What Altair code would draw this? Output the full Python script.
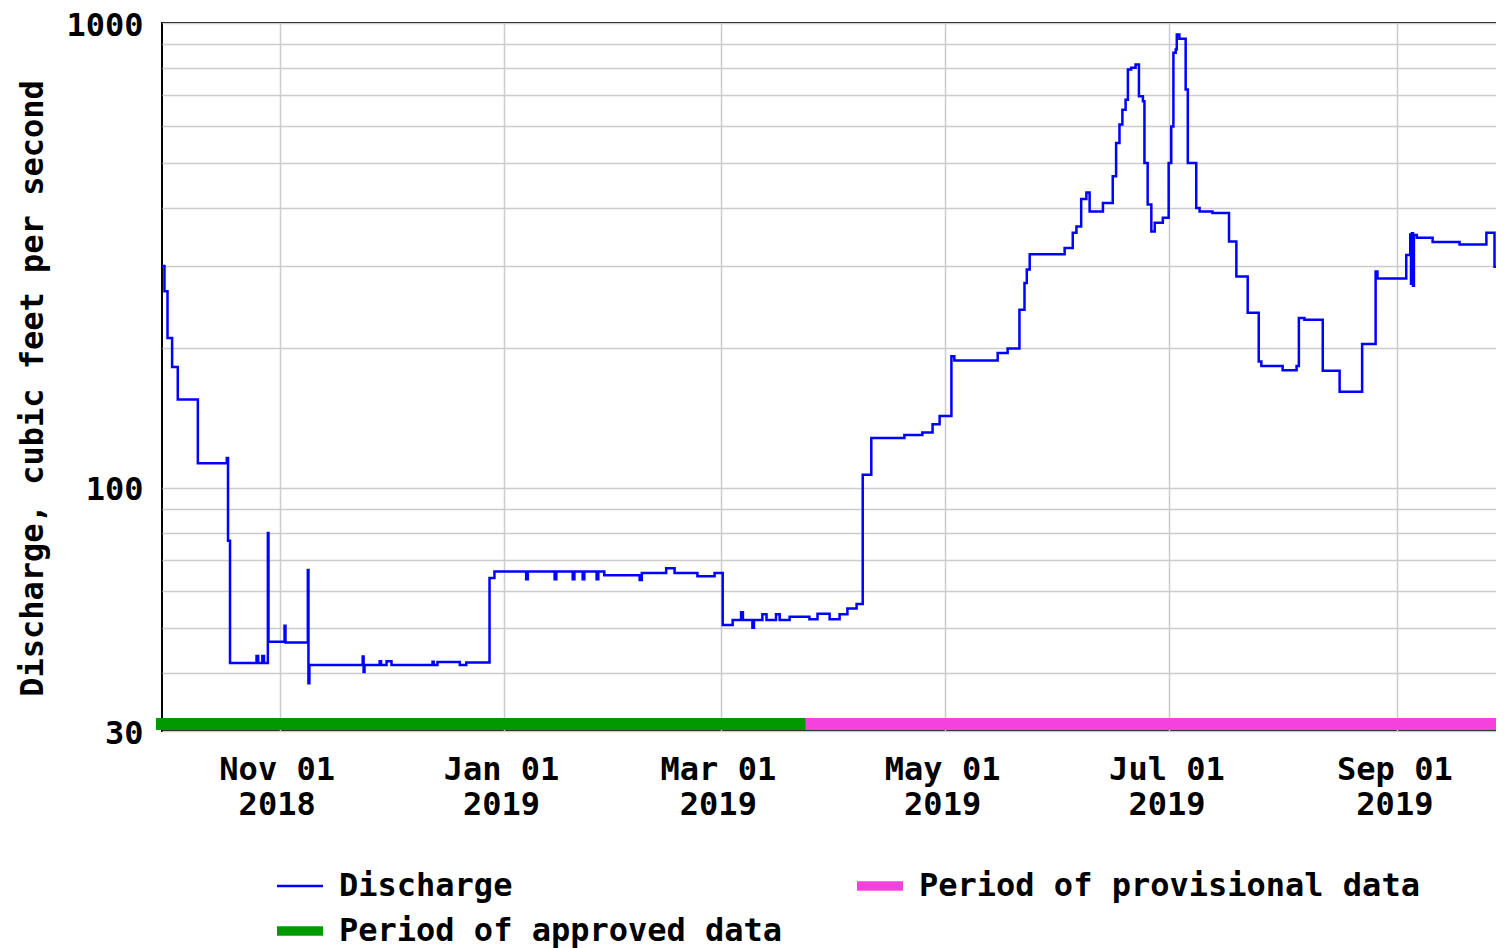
import altair as alt
import pandas as pd

# ---------------- data ----------------
discharge_time = [
    "2018-09-30T00:00", "2018-09-30T16:00", "2018-10-01T12:00", "2018-10-02T18:00",
    "2018-10-04T07:00", "2018-10-09T18:00", "2018-10-17T15:00", "2018-10-17T23:00",
    "2018-10-18T12:00", "2018-10-25T17:00", "2018-10-26T04:00", "2018-10-27T07:00",
    "2018-10-27T18:00", "2018-10-28T19:00", "2018-10-28T23:00", "2018-11-02T08:00",
    "2018-11-02T14:00", "2018-11-08T16:00", "2018-11-08T20:00", "2018-11-09T02:00",
    "2018-11-23T14:00", "2018-11-23T20:00", "2018-11-24T02:00", "2018-11-28T05:00",
    "2018-11-28T14:00", "2018-11-30T02:00", "2018-12-01T10:00", "2018-12-12T14:00",
    "2018-12-12T22:00", "2018-12-13T22:00", "2018-12-20T00:00", "2018-12-21T18:00",
    "2018-12-28T02:00", "2018-12-29T10:00",
    "2019-01-07T01:00", "2019-01-07T12:00", "2019-01-14T19:00", "2019-01-15T06:00",
    "2019-01-19T17:00", "2019-01-20T04:00", "2019-01-22T10:00", "2019-01-22T21:00",
    "2019-01-26T05:00", "2019-01-26T16:00", "2019-01-28T07:00", "2019-02-06T22:00",
    "2019-02-07T12:00", "2019-02-14T03:00", "2019-02-16T10:00", "2019-02-22T15:00",
    "2019-02-27T07:00", "2019-03-01T12:00", "2019-03-04T05:00", "2019-03-06T12:00",
    "2019-03-07T00:00", "2019-03-09T14:00", "2019-03-10T00:00", "2019-03-12T07:00",
    "2019-03-13T10:00", "2019-03-16T00:00", "2019-03-17T00:00", "2019-03-19T17:00",
    "2019-03-25T02:00", "2019-03-27T07:00", "2019-03-30T14:00", "2019-04-02T07:00",
    "2019-04-04T10:00", "2019-04-06T22:00", "2019-04-08T14:00", "2019-04-10T22:00",
    "2019-04-19T22:00", "2019-04-24T19:00", "2019-04-27T14:00", "2019-04-29T12:00",
    "2019-05-02T17:00", "2019-05-03T12:00", "2019-05-15T07:00", "2019-05-18T00:00",
    "2019-05-21T05:00", "2019-05-22T14:00", "2019-05-23T05:00", "2019-05-24T00:00",
    "2019-06-02T12:00", "2019-06-04T17:00", "2019-06-05T17:00", "2019-06-07T00:00",
    "2019-06-08T10:00", "2019-06-09T07:00", "2019-06-12T22:00", "2019-06-15T14:00",
    "2019-06-16T12:00", "2019-06-17T10:00", "2019-06-18T05:00", "2019-06-19T02:00",
    "2019-06-19T17:00", "2019-06-20T14:00", "2019-06-21T19:00", "2019-06-22T17:00",
    "2019-06-23T19:00", "2019-06-24T05:00", "2019-06-25T02:00", "2019-06-26T02:00",
    "2019-06-27T00:00", "2019-06-29T05:00", "2019-06-30T19:00", "2019-07-01T12:00",
    "2019-07-02T02:00", "2019-07-02T17:00", "2019-07-03T00:00", "2019-07-03T17:00",
    "2019-07-05T10:00", "2019-07-06T00:00", "2019-07-08T07:00", "2019-07-09T05:00",
    "2019-07-12T17:00", "2019-07-17T05:00", "2019-07-19T05:00", "2019-07-22T07:00",
    "2019-07-25T07:00", "2019-07-26T00:00", "2019-07-31T19:00", "2019-08-04T14:00",
    "2019-08-05T05:00", "2019-08-06T17:00", "2019-08-11T17:00", "2019-08-16T07:00",
    "2019-08-22T10:00", "2019-08-26T02:00", "2019-08-26T14:00", "2019-09-03T10:00",
    "2019-09-04T12:00", "2019-09-04T17:00", "2019-09-04T23:00", "2019-09-05T06:00",
    "2019-09-05T12:00", "2019-09-06T07:00", "2019-09-10T14:00", "2019-09-17T22:00",
    "2019-09-25T05:00", "2019-09-27T10:00", "2019-09-30T00:00",
]
discharge_cfs = [
    300, 265, 210, 182,
    155, 113, 116, 77,
    42, 43.5, 42, 43.5,
    42, 80, 46.7, 50.5,
    46.5, 66.6, 38, 41.6,
    43.4, 40.2, 41.6, 42.4,
    41.6, 42.4, 41.6, 42.3,
    41.6, 42.2, 41.6, 42.1,
    64.0, 66.1,
    63.6, 66.1, 63.6, 66.1,
    63.6, 66.1, 63.6, 66.1,
    63.6, 66.1, 64.9, 63.4,
    65.6, 67.2, 65.6, 64.6,
    65.6, 50.7, 52.0, 54.0,
    52.0, 50.0, 52.0, 53.5,
    52.0, 53.5, 52.0, 52.8,
    52.2, 53.6, 52.2, 53.5,
    55.0, 56.3, 106.7, 128.0,
    130.0, 131.6, 137.0, 142.7,
    192.0, 188.0, 195.0, 199.5,
    241.6, 276.0, 295.0, 318.0,
    328.0, 354.0, 365.0, 418.0,
    432.0, 393.0, 410.0, 468.0,
    552.0, 605.0, 651.0, 684.0,
    794.0, 801.0, 814.0, 696.0,
    679.0, 500.0, 407.0, 356.0,
    372.0, 381.0, 500.0, 599.0,
    863.0, 877.0, 945.0, 925.0,
    719.0, 500.0, 400.0, 393.0,
    390.0, 339.0, 285.0, 238.0,
    187.0, 183.0, 179.0, 183.0,
    232.0, 230.0, 178.6, 161.0,
    204.0, 292.0, 282.0, 317.0,
    351.0, 275.0, 353.0, 272.0,
    350.0, 345.0, 338.0, 334.0,
    354.0, 299.0, 299.0,
]

period_names = ["Period of approved data", "Period of provisional data"]
period_start = ["2018-09-30T00:00", "2019-03-24T00:00"]
period_end = ["2019-03-24T00:00", "2019-09-30T00:00"]

legend_labels = ["Discharge", "Period of approved data", "Period of provisional data"]
legend_colors = ["#0000ff", "#009a00", "#f442dc"]
legend_shapes = ["M-1,-0.05H1V0.05H-1Z", "M-1,-0.21H1V0.21H-1Z", "M-1,-0.21H1V0.21H-1Z"]

x_tick_dates = [(2018, 11, 1), (2019, 1, 1), (2019, 3, 1), (2019, 5, 1), (2019, 7, 1), (2019, 9, 1)]
x_domain = [(2018, 9, 30), (2019, 9, 30)]
y_grid_values = [30, 40, 50, 60, 70, 80, 90, 100, 200, 300, 400, 500, 600, 700, 800, 900, 1000]
y_label_values = [30, 100, 1000]
y_title = "Discharge, cubic feet per second"

# ---------------- chart ----------------
FONT = "DejaVu Sans Mono"
FS = 32


def dt(y, m, d):
    return alt.DateTime(year=y, month=m, date=d, utc=True)


q_df = pd.DataFrame({"time": [t + ":00Z" for t in discharge_time], "cfs": discharge_cfs})
p_df = pd.DataFrame({
    "period": period_names,
    "start": [t + ":00Z" for t in period_start],
    "end": [t + ":00Z" for t in period_end],
})
leg_df = pd.DataFrame({"series": legend_labels})

x_scale = alt.Scale(type="utc", domain=[dt(*x_domain[0]), dt(*x_domain[1])])
y_scale = alt.Scale(type="log", domain=[30, 1000], nice=False)

label_test = " || ".join(f"datum.value == {v}" for v in y_label_values)

x_axis = alt.Axis(
    values=[dt(*d) for d in x_tick_dates],
    labelExpr="[utcFormat(datum.value, '%b %d'), utcFormat(datum.value, '%Y')]",
    title=None, grid=True, gridColor="#cccccc", gridWidth=1.5,
    ticks=False, tickSize=0, domain=False,
    labelFont=FONT, labelFontSize=FS, labelFontWeight="bold", labelColor="black",
    labelBaseline="top", labelPadding=23, labelLineHeight=35, labelOverlap=False,
    labelOffset=-3,
)
y_axis = alt.Axis(
    values=y_grid_values,
    labelExpr=f"({label_test}) ? format(datum.value, 'd') : ''",
    grid=True, gridColor="#cccccc", gridWidth=1.5,
    ticks=False, tickSize=0, domain=False,
    labelFont=FONT, labelFontSize=FS, labelFontWeight="bold", labelColor="black",
    labelPadding=19, labelOverlap=False, labelOffset=2,
    title=y_title, titleFont=FONT, titleFontSize=FS, titleFontWeight="bold", titleColor="black",
    titleAngle=270, titleAlign="center", titleBaseline="alphabetic", titleX=-120, titleY=365,
)

line = alt.Chart(q_df).mark_line(
    interpolate="step-after", color="#0000ff", strokeWidth=2.5, clip=True
).encode(
    x=alt.X("time:T", scale=x_scale, axis=x_axis),
    y=alt.Y("cfs:Q", scale=y_scale, axis=y_axis),
)

approved = alt.Chart(p_df).transform_filter(
    alt.datum.period == period_names[0]
).mark_rule(strokeWidth=12, strokeCap="square", color=legend_colors[1]).encode(
    x=alt.X("start:T", scale=x_scale, axis=x_axis),
    x2="end:T",
    y=alt.value(701),
)

provisional = alt.Chart(p_df).transform_filter(
    alt.datum.period == period_names[1]
).mark_rule(strokeWidth=12, strokeCap="butt", color=legend_colors[2]).encode(
    x=alt.X("start:T", scale=x_scale, axis=x_axis),
    x2="end:T",
    y=alt.value(701),
)

leg_kw = dict(
    title=None, orient="none", legendX=115, legendY=840, columns=2,
    values=legend_labels,
    columnPadding=74, rowPadding=6, symbolSize=2116, symbolStrokeWidth=0,
    labelFont=FONT, labelFontSize=FS, labelFontWeight="bold", labelColor="black",
    labelOffset=16, labelLimit=2000,
)

legend_layer = alt.Chart(leg_df).transform_filter("false").mark_point(
    filled=True, opacity=1
).encode(
    color=alt.Color("series:N", scale=alt.Scale(domain=legend_labels, range=legend_colors),
                    legend=alt.Legend(**leg_kw)),
    shape=alt.Shape("series:N", scale=alt.Scale(domain=legend_labels, range=legend_shapes),
                    legend=alt.Legend(**leg_kw)),
)

chart = alt.layer(line, approved, provisional, legend_layer).properties(
    width=1342,
    height=708,
    padding={"left": 154, "top": 15, "right": -8, "bottom": 225},
    autosize=alt.AutoSizeParams(type="none"),
    background="white",
).configure_view(stroke="black", strokeWidth=2)

chart.save("out.html", embed_options={"renderer": "svg", "actions": False})
